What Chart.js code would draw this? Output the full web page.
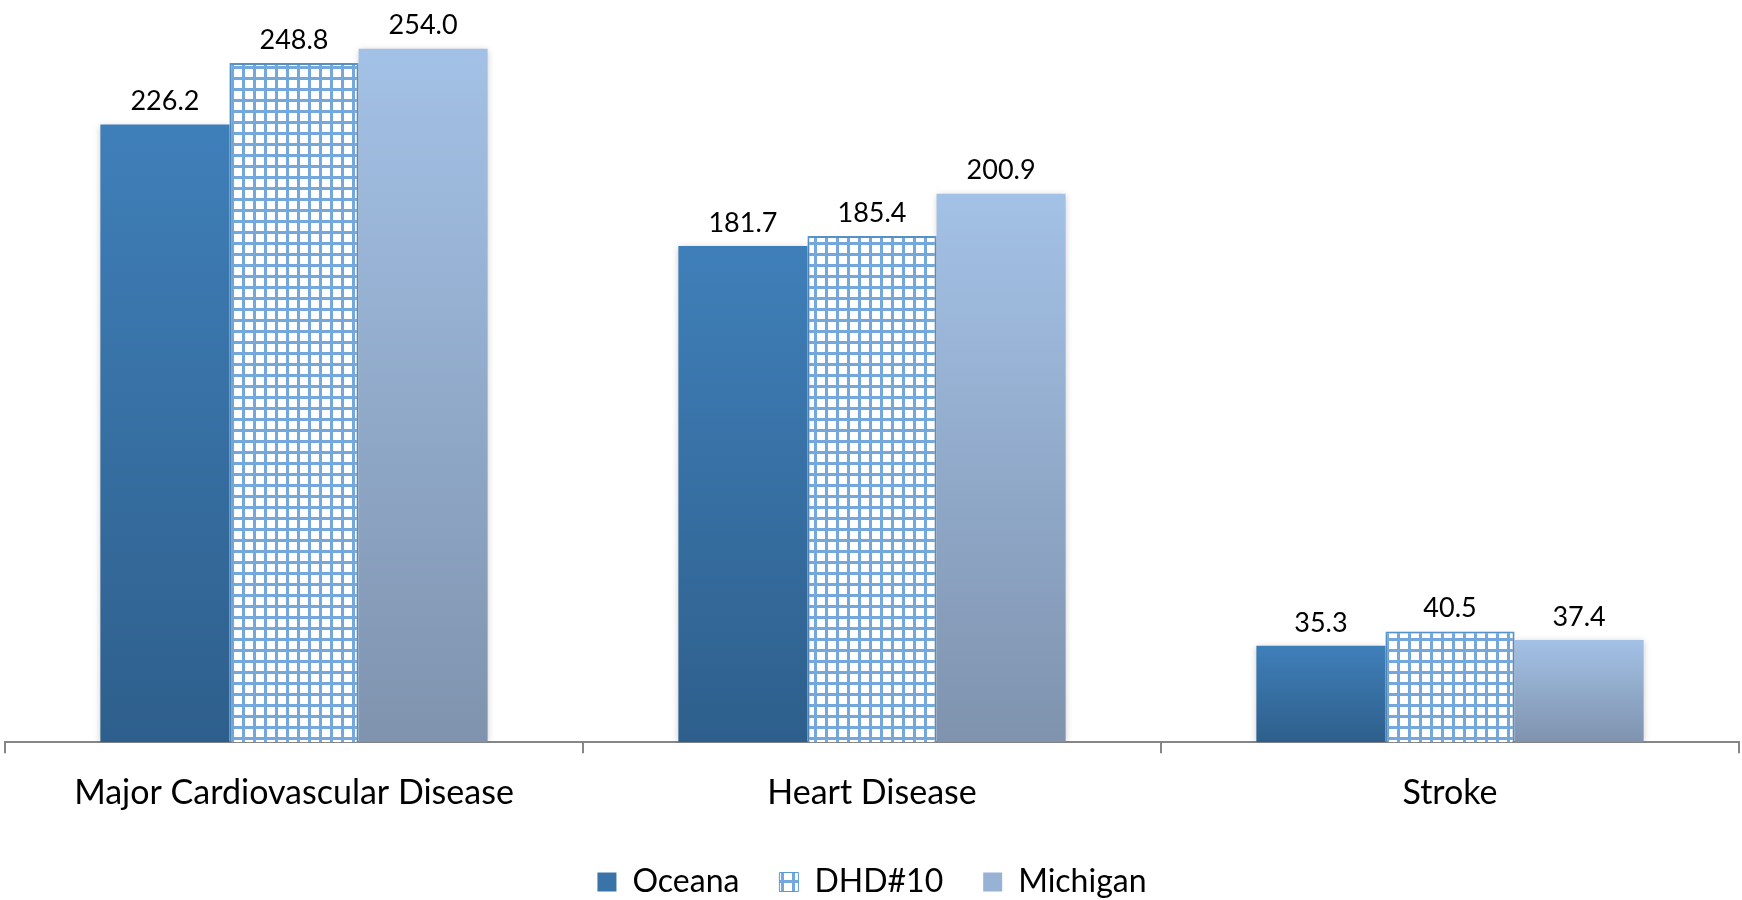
<!DOCTYPE html>
<html>
<head>
<meta charset="utf-8">
<script src="https://cdn.jsdelivr.net/npm/chart.js@4.4.1/dist/chart.umd.min.js"></script>
<style>
  html, body { margin: 0; background: #fff; }
  #wrap { width: 1742px; height: 900px; }
</style>
</head>
<body>
<div id="wrap"><canvas id="chart"></canvas></div>
<script>
const categories = ["Major Cardiovascular Disease", "Heart Disease", "Stroke"];
const seriesNames = ["Oceana", "DHD#10", "Michigan"];
const oceana = [226.2, 181.7, 35.3];
const dhd10 = [248.8, 185.4, 40.5];
const michigan = [254.0, 200.9, 37.4];

const FONT = "Lato, 'Open Sans', sans-serif";

// checkered fill for DHD#10
function makeGrid() {
  const c = document.createElement("canvas");
  c.width = 11; c.height = 11;
  const g = c.getContext("2d");
  g.fillStyle = "#ffffff";
  g.fillRect(0, 0, 11, 11);
  g.fillStyle = "#74a8dc";
  g.fillRect(0, 0, 3, 11);
  g.fillRect(0, 0, 11, 3);
  return document.getElementById("chart").getContext("2d").createPattern(c, "repeat");
}
const gridFill = makeGrid();

// vertical gradient over each bar, top of bar to the baseline
function barGradient(top, bottom) {
  return (c) => {
    const chart = c.chart;
    if (!chart.chartArea || c.type !== "data") return top;
    const y = chart.scales.y;
    const y0 = y.getPixelForValue(c.parsed.y);
    const y1 = y.getPixelForValue(0);
    const g = chart.ctx.createLinearGradient(0, y0, 0, y1);
    g.addColorStop(0, top);
    g.addColorStop(1, bottom);
    return g;
  };
}

const legendFills = ["#3a73a8", gridFill, "#97b2d5"];
const legendStrokes = ["#3a73a8", "#5b9bd5", "#97b2d5"];

const barShadow = {
  id: "barShadow",
  beforeDatasetsDraw(chart) {
    const ctx = chart.ctx;
    ctx.save();
    ctx.shadowColor = "rgba(0,0,0,0.22)";
    ctx.shadowBlur = 7;
    ctx.shadowOffsetX = 0;
    ctx.shadowOffsetY = 1;
  },
  afterDatasetsDraw(chart) {
    chart.ctx.restore();
  }
};

const valueLabels = {
  id: "valueLabels",
  afterDatasetsDraw(chart) {
    const ctx = chart.ctx;
    ctx.save();
    ctx.font = "27px " + FONT;
    ctx.fillStyle = "#000";
    ctx.textAlign = "center";
    ctx.textBaseline = "middle";
    chart.data.datasets.forEach((ds, i) => {
      chart.getDatasetMeta(i).data.forEach((bar, j) => {
        ctx.fillText(ds.data[j].toFixed(1), bar.x, bar.y - 23);
      });
    });
    ctx.restore();
  }
};

new Chart(document.getElementById("chart"), {
  type: "bar",
  data: {
    labels: categories,
    datasets: [
      {
        label: seriesNames[0],
        data: oceana,
        backgroundColor: barGradient("#3f7fb9", "#2e5f8c")
      },
      {
        label: seriesNames[1],
        data: dhd10,
        backgroundColor: gridFill,
        borderColor: "#5b9bd5",
        borderWidth: 2
      },
      {
        label: seriesNames[2],
        data: michigan,
        backgroundColor: barGradient("#a3c1e6", "#7f93ae")
      }
    ]
  },
  plugins: [barShadow, valueLabels],
  options: {
    responsive: true,
    maintainAspectRatio: false,
    animation: false,
    layout: { padding: { top: 5, left: 5, right: 3, bottom: -8 } },
    datasets: {
      bar: { categoryPercentage: 0.67, barPercentage: 1.0 }
    },
    plugins: {
      legend: {
        position: "bottom",
        labels: {
          color: "#000",
          font: { size: 32, family: FONT },
          boxWidth: 19,
          boxHeight: 19,
          padding: 40,
          generateLabels(chart) {
            const items = Chart.defaults.plugins.legend.labels.generateLabels(chart);
            items.forEach((it, i) => {
              it.fillStyle = legendFills[i];
              it.strokeStyle = legendStrokes[i];
              it.lineWidth = i === 1 ? 1 : 0;
            });
            return items;
          }
        }
      },
      tooltip: { enabled: false }
    },
    scales: {
      x: {
        grid: {
          offset: true,
          drawOnChartArea: false,
          drawTicks: true,
          tickLength: 11,
          color: "#868686",
          lineWidth: 2
        },
        border: { display: true, color: "#868686", width: 2 },
        ticks: {
          color: "#000",
          font: { size: 34, family: FONT },
          padding: 19
        },
        afterFit(scale) {
          scale.height -= 6;
        }
      },
      y: {
        display: false,
        min: 0,
        max: 270
      }
    }
  }
});
</script>
</body>
</html>
